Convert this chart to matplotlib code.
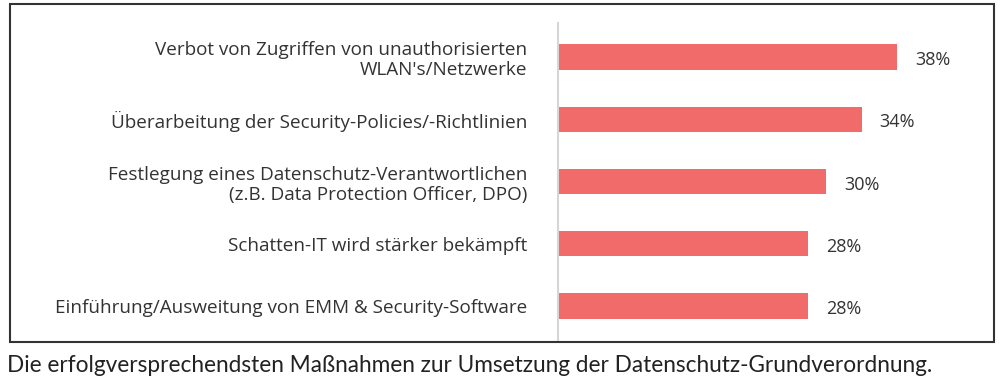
import matplotlib
matplotlib.use('Agg')
import matplotlib.pyplot as plt
from matplotlib.patches import Rectangle

# Chart data, top to bottom.
labels = [
    "Verbot von Zugriffen von unauthorisierten\nWLAN's/Netzwerke",
    "Überarbeitung der Security-Policies/-Richtlinien",
    "Festlegung eines Datenschutz-Verantwortlichen\n(z.B. Data Protection Officer, DPO)",
    "Schatten-IT wird stärker bekämpft",
    "Einführung/Ausweitung von EMM & Security-Software",
]
values = [38, 34, 30, 28, 28]
caption = "Die erfolgversprechendsten Maßnahmen zur Umsetzung der Datenschutz-Grundverordnung."

fig = plt.figure(figsize=(10, 3.87), dpi=100)
W, H = 1000, 387

# Axes placed in pixel terms.
ax = fig.add_axes([558 / W, 1 - 340 / H, 402 / W, 317 / H])
pos = list(range(len(values)))
ax.barh(pos, values, height=0.41, color='#f06b6a', zorder=2)
ax.set_xlim(0, 45)
ax.set_ylim(4.55, -0.55)

for p, v in zip(pos, values):
    ax.text(v + 2.0, p + 0.05, f'{v}%', va='center', ha='left',
            fontsize=13, family='Open Sans', color='#333333')

ax.set_yticks(pos)
ax.set_yticklabels(labels, fontsize=13.6, family='Open Sans', color='#333333',
                   ha='right', multialignment='right', linespacing=1.15)
ax.tick_params(axis='y', length=0, pad=22)
ax.set_xticks([])
for side in ['top', 'right', 'bottom']:
    ax.spines[side].set_visible(False)
ax.spines['left'].set_color('#d6d6d6')
ax.spines['left'].set_linewidth(1.5)

# Frame around the chart.
fig.patches.append(Rectangle((10 / W, 1 - 342 / H), 984 / W, 338 / H,
                             transform=fig.transFigure, fill=False,
                             edgecolor='#333333', linewidth=1.5))

fig.text(7 / W, 1 - 366 / H, caption, fontsize=16.3, family='Lato',
         color='#222222', va='center', ha='left')

plt.savefig('out.png', dpi=100)
plt.close()
